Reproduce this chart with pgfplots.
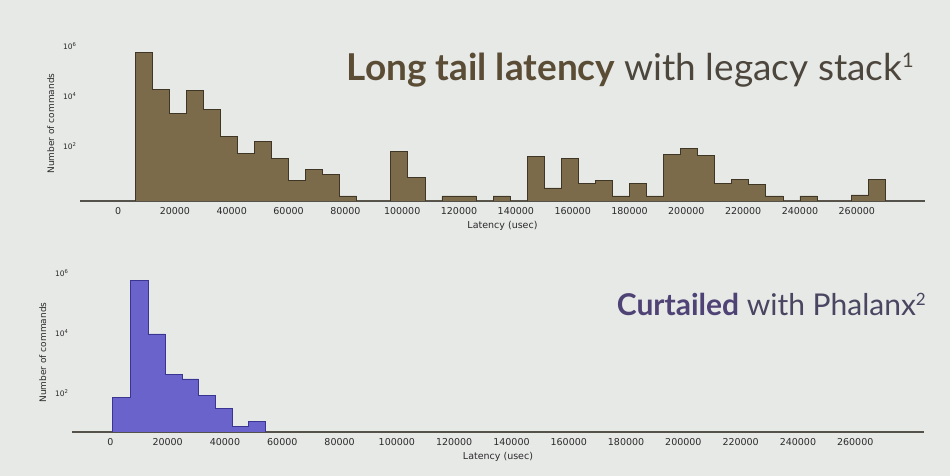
\documentclass[border=0pt]{standalone}
\usepackage{fontspec}
\setmainfont{DejaVu Sans}
\newfontfamily\titlefont{Lato}
\usepackage{pgfplots}
\pgfplotsset{compat=1.18}
\definecolor{bg}{HTML}{E7E9E7}
\definecolor{topfill}{HTML}{7B6B4B}
\definecolor{topedge}{HTML}{3F3626}
\definecolor{botfill}{HTML}{6A63CC}
\definecolor{botedge}{HTML}{3A3590}
\definecolor{axisc}{HTML}{55524C}
\definecolor{txt}{HTML}{2A2A2A}
\definecolor{tia}{HTML}{5B4D35}
\definecolor{tib}{HTML}{4D463D}
\definecolor{tiia}{HTML}{4F4275}
\definecolor{tiib}{HTML}{4A4560}
\pgfplotsset{
  hist/.style={
    scale only axis,
    axis lines*=left,
    y axis line style={draw=none},
    x axis line style={draw=axisc, line width=1.1pt},
    xtick style={draw=none}, ytick style={draw=none},
    xmin=-13400, xmax=284000,
    xtick={0,20000,40000,60000,80000,100000,120000,140000,160000,180000,200000,220000,240000,260000},
    scaled x ticks=false,
    xticklabel style={font=\fontsize{9.5}{10}\selectfont, text=txt, yshift=-3pt,
      /pgf/number format/fixed, /pgf/number format/1000 sep={},
      /pgf/number format/assume math mode=true},
    ytick={1e2,1e4,1e6},
    yticklabels={10\textsuperscript{2},10\textsuperscript{4},10\textsuperscript{6}},
    yticklabel style={font=\fontsize{7.5}{8}\selectfont, text=txt},
    xlabel={Latency (usec)},
    ylabel={Number of commands},
    ylabel shift=2pt,
    xlabel style={font=\fontsize{9.5}{10}\selectfont, text=txt},
    ylabel style={font=\fontsize{9}{10}\selectfont, text=txt},
  }
}
\begin{document}
\begin{tikzpicture}[x=1pt,y=1pt]
\fill[bg] (0,0) rectangle (950,476);
% top histogram (legacy stack)
\begin{axis}[ymode=log, hist, at={(80pt,275pt)}, anchor=south west, width=845pt, height=155pt,
  ymin=0.63, ymax=1e6]
\addplot[const plot, fill=topfill, draw=topedge, line width=0.8pt] coordinates {
(6000,0.63) (6000,530000) (12000,18500) (18000,2000) (24000,16000) (30000,2900)
(36000,245) (42000,51) (48000,151) (54000,33) (60000,4.2) (66000,12) (72000,7)
(78000,1) (84000,0.63) (90000,0.63) (96000,59) (102000,5.6) (108000,0.63)
(114000,1) (120000,1) (126000,0.63) (132000,1) (138000,0.63) (144000,38)
(150000,2.1) (156000,32) (162000,3.1) (168000,4.2) (174000,1) (180000,3.1)
(186000,1) (192000,46) (198000,83) (204000,42) (210000,3.1) (216000,4.4)
(222000,3) (228000,1) (234000,0.63) (240000,1) (246000,0.63) (252000,0.63)
(258000,1.1) (264000,4.7) (270000,0.63)};
\end{axis}
% bottom histogram (Phalanx)
\begin{axis}[ymode=log, hist, at={(72pt,44pt)}, anchor=south west, width=852pt, height=159pt,
  ymin=5, ymax=1e6]
\addplot[const plot, fill=botfill, draw=botedge, line width=0.8pt] coordinates {
(600,5) (600,73) (7000,570000) (13400,9300) (19200,424) (25000,293)
(30800,82) (36600,31) (42500,7.6) (48300,11.5) (54100,5)};
\end{axis}
\node[anchor=base east, inner sep=0pt, text=tib] at (914pt,395pt)
  {\fontsize{37}{40}\selectfont\titlefont{\bfseries\color{tia}Long tail latency} with legacy stack\raisebox{0.36em}{\fontsize{20}{22}\selectfont 1}};
\node[anchor=base east, inner sep=0pt, text=tiib] at (926pt,160pt)
  {\fontsize{30}{34}\selectfont\titlefont{\bfseries\color{tiia}Curtailed} with Phalanx\raisebox{0.36em}{\fontsize{17}{19}\selectfont 2}};
\end{tikzpicture}
\end{document}
